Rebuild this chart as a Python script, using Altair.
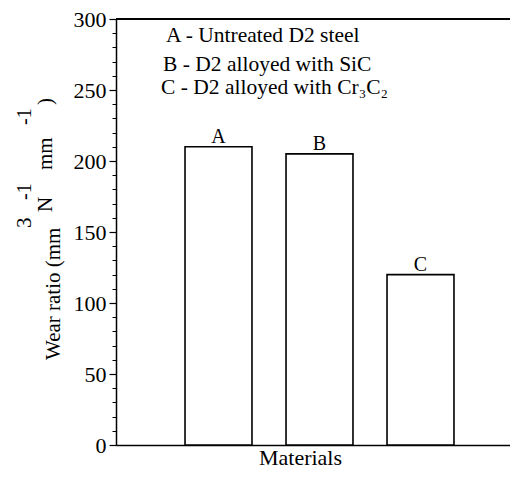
import altair as alt
import pandas as pd

materials = ["A", "B", "C"]
wear_ratio = [210, 205, 120]
legend_lines = ["A - Untreated D2 steel", "B - D2 alloyed with SiC", "C - D2 alloyed with Cr\u2083C\u2082"]
y_title_parts = ["Wear ratio (mm", "3", "N", "-1", "mm", "-1", ")"]
x_title = "Materials"
major_ticks = [0, 50, 100, 150, 200, 250, 300]
minor_ticks = list(range(0, 301, 10))

FONT = "Liberation Serif"
W, H = 394, 426

df = pd.DataFrame({"material": materials, "value": wear_ratio})

xscale = alt.Scale(domain=materials, paddingInner=0.337, paddingOuter=0.619, align=0.552)
yscale = alt.Scale(domain=[0, 300], nice=False, zero=True)

x_axis = alt.Axis(title=x_title, labels=False, ticks=False, domain=True,
                  domainColor="black", domainWidth=1.5,
                  titleFont=FONT, titleFontSize=22, titleFontWeight="normal",
                  titleColor="black", titleX=184, titleY=19,
                  titleBaseline="alphabetic")


def x_enc():
    return alt.X("material:N", scale=xscale, axis=x_axis, title=x_title)


base = alt.Chart(df)

bars = base.mark_bar(fill="white", stroke="black", strokeWidth=1.6).encode(
    x=x_enc(),
    y=alt.Y("value:Q", scale=yscale,
            axis=alt.Axis(title=None, values=major_ticks, orient="left",
                          tickSize=7, tickColor="black", tickWidth=1.2,
                          domainColor="black", domainWidth=1.5,
                          labelFont=FONT, labelFontSize=22, labelColor="black",
                          labelPadding=3, grid=False)),
)

minor = base.mark_point(opacity=0).encode(
    x=x_enc(),
    y=alt.Y("value:Q", scale=yscale,
            axis=alt.Axis(title=None, values=minor_ticks, orient="left", labels=False,
                          domain=False, tickSize=4, tickColor="black", tickWidth=1,
                          grid=False)),
)

bar_labels = base.mark_text(font=FONT, fontSize=20, color="black", baseline="alphabetic", dy=-4).encode(
    x=x_enc(),
    y=alt.Y("value:Q", scale=yscale, axis=None),
    text="material:N",
)

top_line = base.mark_rule(color="black", strokeWidth=1.5).encode(
    y=alt.Y(datum=300, scale=yscale, axis=None),
    x=alt.value(0), x2=alt.value(W),
)

legend_pos = [(50, 23), (47, 52), (45, 75)]
legend_layers = []
for txt, (lx, ly) in zip(legend_lines, legend_pos):
    legend_layers.append(
        alt.Chart(pd.DataFrame({"t": [txt]})).mark_text(
            font=FONT, fontSize=21.5, color="black", align="left", baseline="alphabetic"
        ).encode(x=alt.value(lx), y=alt.value(ly), text="t:N")
    )

# y title pieces: (x baseline, y start, size)
title_pos = [(-56, 341, 21), (-85, 209, 21), (-64, 193, 21), (-85, 181, 20),
             (-64, 151, 21), (-85, 106, 20), (-64, 86, 21)]
title_layers = []
for txt, (tx, ty, fs) in zip(y_title_parts, title_pos):
    title_layers.append(
        alt.Chart(pd.DataFrame({"t": [txt]})).mark_text(
            font=FONT, fontSize=fs, color="black", align="left", baseline="alphabetic", angle=270
        ).encode(x=alt.value(tx), y=alt.value(ty), text="t:N")
    )

chart = alt.layer(bars, minor, bar_labels, top_line, *legend_layers, *title_layers).resolve_axis(
    y="independent"
).properties(
    width=W, height=H,
    autosize=alt.AutoSizeParams(type="none"),
    padding={"left": 108, "top": 11, "right": 0, "bottom": 24},
).configure_view(stroke=None).configure(font=FONT, background="white")

chart.save("out.html", embed_options={"renderer": "svg", "actions": False})
